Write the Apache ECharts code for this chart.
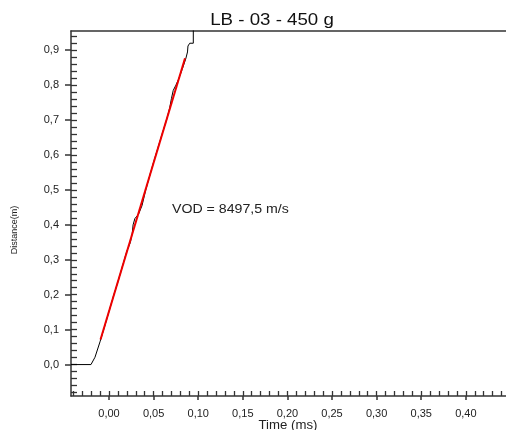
<!DOCTYPE html>
<html>
<head>
<meta charset="utf-8">
<script src="https://cdn.jsdelivr.net/npm/echarts@6/dist/echarts.min.js"></script>
<style>
html,body{margin:0;padding:0;background:#fff;}
#chart{width:506px;height:430px;}
</style>
</head>
<body>
<div id="chart"></div>
<script>
// ---- data ----
var titleText = 'LB - 03 - 450 g';
var vodText = 'VOD = 8497,5 m/s';
var xName = 'Time (ms)';
var yName = 'Distance(m)';
var xLabelValues = [0, 0.05, 0.10, 0.15, 0.20, 0.25, 0.30, 0.35, 0.40];
var xMinorValues = [-0.04,-0.03,-0.02,-0.01,0,0.01,0.02,0.03,0.04,0.05,0.06,0.07,0.08,0.09,0.10,0.11,0.12,0.13,0.14,0.15,0.16,0.17,0.18,0.19,0.20,0.21,0.22,0.23,0.24,0.25,0.26,0.27,0.28,0.29,0.30,0.31,0.32,0.33,0.34,0.35,0.36,0.37,0.38,0.39,0.40,0.41,0.42,0.43,0.44];
var yLabelValues = [0, 0.1, 0.2, 0.3, 0.4, 0.5, 0.6, 0.7, 0.8, 0.9];
var yMinorValues = [-0.08,-0.06,-0.04,-0.02,0,0.02,0.04,0.06,0.08,0.10,0.12,0.14,0.16,0.18,0.20,0.22,0.24,0.26,0.28,0.30,0.32,0.34,0.36,0.38,0.40,0.42,0.44,0.46,0.48,0.50,0.52,0.54,0.56,0.58,0.60,0.62,0.64,0.66,0.68,0.70,0.72,0.74,0.76,0.78,0.80,0.82,0.84,0.86,0.88,0.90,0.92,0.94];
// measured distance vs time [ms, m]
var measuredTime = [-0.0426,-0.0202,-0.0157,-0.0101,-0.005,0.000,0.005,0.010,0.015,0.020,0.024,0.026,0.027,0.029,0.033,0.037,0.041,0.045,0.050,0.055,0.060,0.065,0.068,0.070,0.072,0.075,0.078,0.082,0.086,0.088,0.0885,0.0905,0.0945,0.0945];
var measuredDist = [0,0,0.021,0.065,0.108,0.152,0.196,0.237,0.281,0.325,0.350,0.375,0.400,0.418,0.430,0.455,0.498,0.535,0.580,0.622,0.664,0.705,0.735,0.762,0.785,0.800,0.817,0.845,0.875,0.895,0.912,0.920,0.920,1.0];
// linear fit
var fitTime = [-0.0095, 0.0852];
var fitDist = [0.072, 0.877];

var xMin = -0.0426, xMax = 0.445, yMin = -0.09, yMax = 0.955;
var FONT = '"Liberation Sans", Arial, sans-serif';
function zipPts(a, b){ return a.map(function(v,i){ return [v, b[i]]; }); }
function comma(d){ return function(v){ return Number(v).toFixed(d).replace('.', ','); }; }

var chart = echarts.init(document.getElementById('chart'), null, {renderer:'canvas'});
var axisLineStyle = {color:'#333', width:1.5};
var option = {
  animation:false,
  backgroundColor:'#fff',
  grid:{left:71, top:31, right:0, bottom:34, containLabel:false},
  xAxis:[
    {type:'value', min:xMin, max:xMax, position:'bottom',
     axisLine:{show:true, onZero:false, lineStyle:axisLineStyle},
     axisTick:{show:true, inside:false, length:4, customValues:xLabelValues, lineStyle:{color:'#333', width:1.5}},
     axisLabel:{show:true, customValues:xLabelValues, formatter:comma(2), margin:12, color:'#222', fontSize:11, fontFamily:FONT},
     splitLine:{show:false}},
    {type:'value', min:xMin, max:xMax, position:'bottom',
     axisLine:{show:false, onZero:false},
     axisTick:{show:true, inside:true, length:5, customValues:xMinorValues, lineStyle:{color:'#333', width:1.3}},
     axisLabel:{show:false}, splitLine:{show:false}},
    {type:'value', min:xMin, max:xMax, position:'top',
     axisLine:{show:true, onZero:false, lineStyle:axisLineStyle},
     axisTick:{show:false}, axisLabel:{show:false}, splitLine:{show:false}}
  ],
  yAxis:[
    {type:'value', min:yMin, max:yMax, position:'left',
     axisLine:{show:true, onZero:false, lineStyle:axisLineStyle},
     axisTick:{show:true, inside:false, length:6, customValues:yLabelValues, lineStyle:{color:'#333', width:1.5}},
     axisLabel:{show:true, customValues:yLabelValues, formatter:comma(1), margin:12, color:'#222', fontSize:11, fontFamily:FONT},
     splitLine:{show:false}},
    {type:'value', min:yMin, max:yMax, position:'left',
     axisLine:{show:false, onZero:false},
     axisTick:{show:true, inside:true, length:6, customValues:yMinorValues, lineStyle:{color:'#333', width:1.3}},
     axisLabel:{show:false}, splitLine:{show:false}}
  ],
  graphic:[
    {type:'text', x:272, y:20, scaleX:1.1, style:{text:titleText, x:0, y:0, align:'center', verticalAlign:'middle', textAlign:'center', textVerticalAlign:'middle', fontSize:17, fontFamily:FONT, fill:'#111'}},
    {type:'text', x:172, y:210, scaleX:1.18, style:{text:vodText, x:0, y:0, align:'left', verticalAlign:'middle', textAlign:'left', textVerticalAlign:'middle', fontSize:12, fontFamily:FONT, fill:'#222'}},
    {type:'text', x:288, y:426, scaleX:1.1, style:{text:xName, x:0, y:0, align:'center', verticalAlign:'middle', textAlign:'center', textVerticalAlign:'middle', fontSize:12, fontFamily:FONT, fill:'#222'}},
    {type:'text', x:15, y:230, rotation:Math.PI/2, style:{text:yName, x:0, y:0, align:'center', verticalAlign:'middle', textAlign:'center', textVerticalAlign:'middle', fontSize:9, fontFamily:FONT, fill:'#222'}}
  ],
  series:[
    {type:'line', name:'measured', xAxisIndex:0, yAxisIndex:0, data:zipPts(measuredTime, measuredDist), showSymbol:false, symbol:'none', clip:true, lineStyle:{color:'#000', width:1}, z:2},
    {type:'line', name:'fit', xAxisIndex:0, yAxisIndex:0, data:zipPts(fitTime, fitDist), showSymbol:false, symbol:'none', clip:true, lineStyle:{color:'#ee0000', width:2}, z:3}
  ]
};
chart.setOption(option);
</script>
</body>
</html>
